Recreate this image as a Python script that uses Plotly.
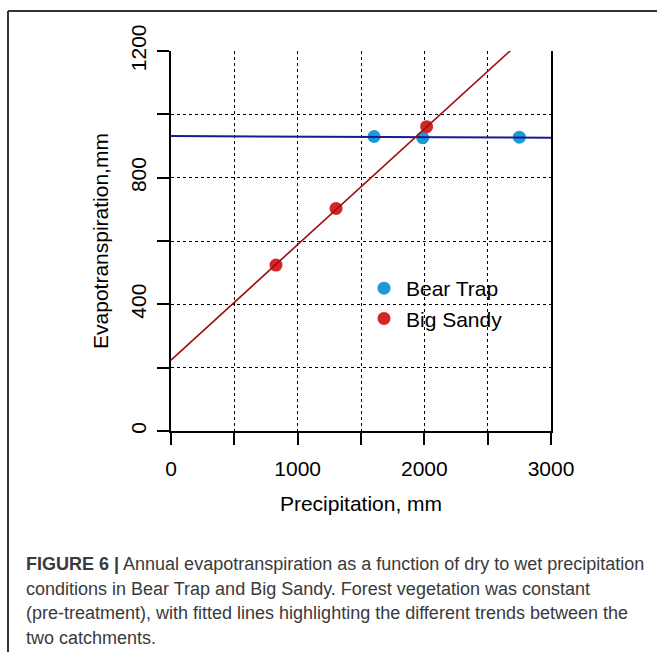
import plotly.graph_objects as go

# ---- data ----
bear_precip = [1603, 1987, 2750]
bear_et = [930, 926, 928]
sandy_precip = [829, 1303, 2018]
sandy_et = [524, 703, 961]

# fitted lines (intercept, slope)
bear_fit = (931.6, -0.0019)
sandy_fit = (224.0, 0.3647)
fit_x = [0, 3000]

x_tickvals = [0, 500, 1000, 1500, 2000, 2500, 3000]
x_ticktext = ["0", "", "1000", "", "2000", "", "3000"]
y_tickvals = [0, 200, 400, 600, 800, 1000, 1200]
y_ticktext = ["0", "", "400", "", "800", "", "1200"]

caption_lines = [
    "<b>FIGURE 6 |</b> Annual evapotranspiration as a function of dry to wet precipitation",
    "conditions in Bear Trap and Big Sandy. Forest vegetation was constant",
    "(pre-treatment), with fitted lines highlighting the different trends between the",
    "two catchments.",
]

# ---- layout geometry (pixels) ----
W, H = 657, 652
L, R, T, B = 171, 551, 51, 431


def fx(px):
    return (px - L) / (R - L)


def fy(py):
    return (B - py) / (B - T)


BLUE_PT = "#1b9ad6"
RED_PT = "#d42626"
BLUE_LN = "#1a1a96"
RED_LN = "#9b0d0d"
FONT = "Liberation Sans, Arial, sans-serif"
FS = 21

fig = go.Figure()

fig.add_trace(go.Scatter(
    x=bear_precip, y=bear_et, mode="markers", name="Bear Trap",
    marker=dict(color=BLUE_PT, size=13, line=dict(width=0)),
))
fig.add_trace(go.Scatter(
    x=sandy_precip, y=sandy_et, mode="markers", name="Big Sandy",
    marker=dict(color=RED_PT, size=13, line=dict(width=0)),
))
fig.add_trace(go.Scatter(
    x=fit_x, y=[bear_fit[0] + bear_fit[1] * v for v in fit_x],
    mode="lines", showlegend=False, line=dict(color=BLUE_LN, width=2),
))
fig.add_trace(go.Scatter(
    x=fit_x, y=[sandy_fit[0] + sandy_fit[1] * v for v in fit_x],
    mode="lines", showlegend=False, line=dict(color=RED_LN, width=1.6),
))

axis_common = dict(
    ticks="outside", ticklen=12, tickwidth=1.5, tickcolor="black",
    showline=True, linecolor="black", linewidth=1.5,
    showgrid=True, gridcolor="black", griddash="dot", gridwidth=1,
    zeroline=False, tickfont=dict(size=FS, color="black", family=FONT),
)

fig.update_layout(
    width=W, height=H,
    margin=dict(l=L, r=W - R, t=T, b=H - B, autoexpand=False),
    paper_bgcolor="white", plot_bgcolor="white",
    font=dict(family=FONT, color="black", size=FS),
    xaxis=dict(
        range=[0, 3000], tickmode="array", tickvals=x_tickvals, ticktext=x_ticktext,
        mirror=False, ticklabelstandoff=6,
        title=dict(text="Precipitation, mm", font=dict(size=FS), standoff=17),
        **axis_common,
    ),
    yaxis=dict(
        range=[0, 1200], tickmode="array", tickvals=y_tickvals, ticktext=y_ticktext,
        mirror=True, tickangle=-90, ticklabelstandoff=3,
        title=dict(text="Evapotranspiration,mm", font=dict(size=FS), standoff=12),
        **axis_common,
    ),
    legend=dict(
        x=fx(362), y=fy(268), xanchor="left", yanchor="top",
        bgcolor="rgba(0,0,0,0)", borderwidth=0, itemwidth=34,
        font=dict(size=FS, color="black", family=FONT),
    ),
    showlegend=True,
)

# figure frame (left and top rules)
frame_col = "#333333"
fig.add_shape(type="line", xref="paper", yref="paper",
              x0=fx(8), x1=fx(8), y0=fy(11), y1=fy(660),
              line=dict(color=frame_col, width=2))
fig.add_shape(type="line", xref="paper", yref="paper",
              x0=fx(8), x1=fx(660), y0=fy(11), y1=fy(11),
              line=dict(color=frame_col, width=2))

# caption
cap_y = [564, 589, 613, 638]
for txt, yy in zip(caption_lines, cap_y):
    fig.add_annotation(
        text=txt, xref="paper", yref="paper", x=fx(24), y=fy(yy),
        xanchor="left", yanchor="middle", showarrow=False, align="left",
        font=dict(family="Liberation Sans, Arial", size=18, color="#3a3a3a"),
    )

fig.write_html("out.html")
